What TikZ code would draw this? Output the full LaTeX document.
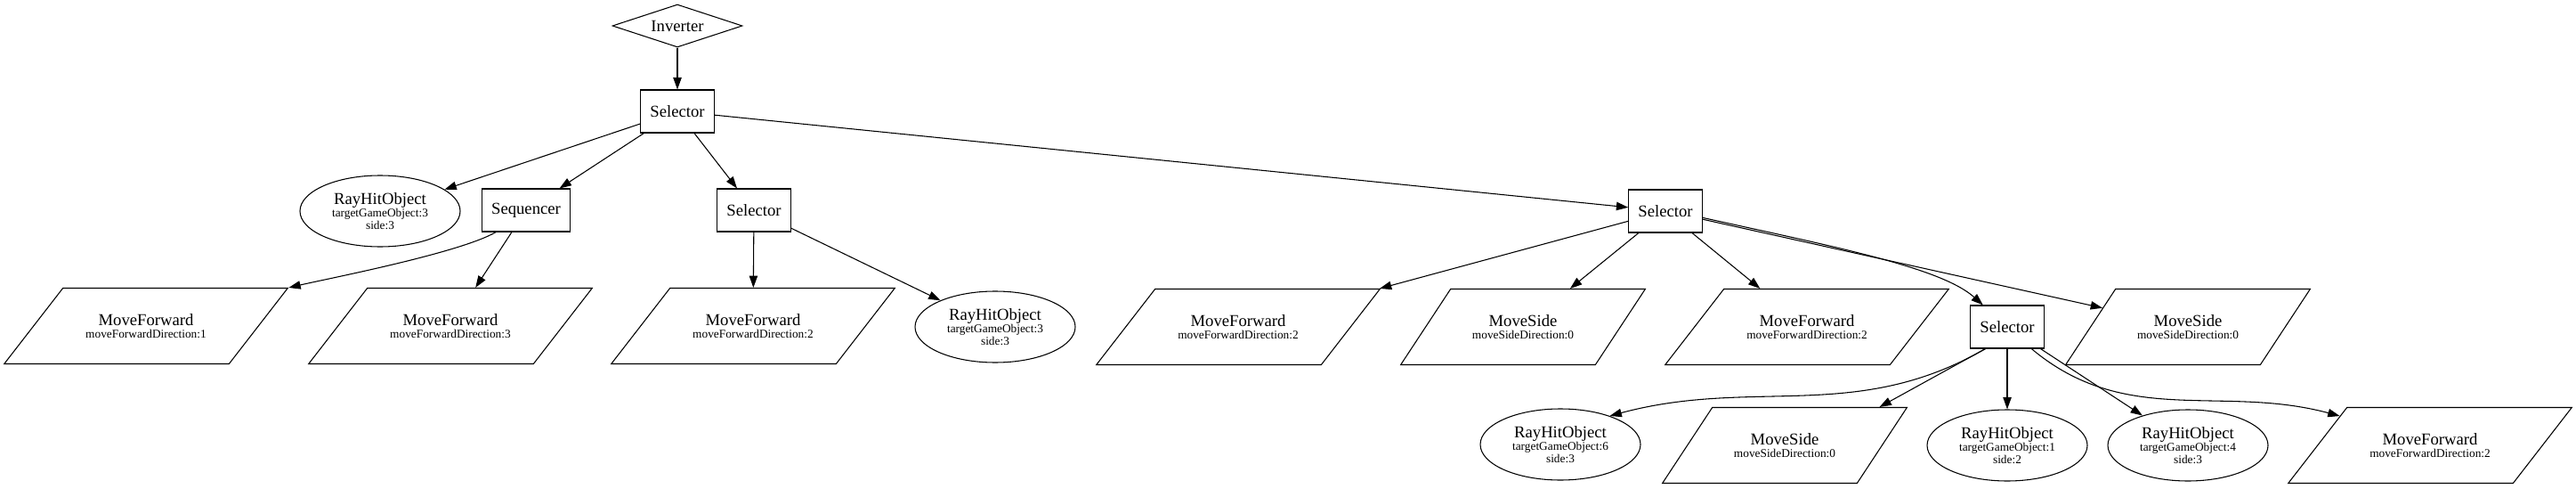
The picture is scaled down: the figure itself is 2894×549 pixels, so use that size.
\documentclass[tikz,border=0pt]{standalone}
\usepackage{fontspec}
\setmainfont{Liberation Serif}
\usetikzlibrary{shapes.geometric,arrows.meta}
\newcommand{\nodetitle}[1]{{\fontsize{14}{14}\selectfont #1}}

\begin{document}
\begin{tikzpicture}[
            x=0.75pt, y=0.75pt,
            line width=0.8pt,
            every node/.append style={black,font=\fontsize{10}{10.5}\selectfont},
            box/.style={draw,rectangle,minimum width=54pt,minimum height=36pt,inner xsep=8pt,font=\fontsize{14}{14}\selectfont},
            gate/.style={draw,diamond,aspect=3,inner sep=1pt,minimum width=109.5pt,minimum height=36pt,font=\fontsize{14}{14}\selectfont},
            hit/.style={draw,ellipse,align=center,inner sep=1pt,minimum width=135pt,minimum height=60pt},
            fwdbox/.style={draw,trapezium,trapezium left angle=52.2,trapezium right angle=127.8,inner sep=0pt,
                execute at begin node={\begin{minipage}[c][63.75pt][c]{140pt}\centering},
                execute at end node={\end{minipage}}},
            sidebox/.style={draw,trapezium,trapezium left angle=56.6,trapezium right angle=123.4,inner sep=0pt,
                execute at begin node={\begin{minipage}[c][63.75pt][c]{122pt}\centering},
                execute at end node={\end{minipage}}},
            link/.style={-{Triangle[length=10pt,width=7pt]}}
        ]
            \useasboundingbox (0,0) rectangle (2894,-549);
            \node [gate] (inv) at (761,-29) {Inverter};
            \node [box] (root) at (761,-125) {Selector};
            \node [hit] (rh1) at (427,-237) {\nodetitle{RayHitObject}\\targetGameObject:3\\side:3};
            \node [box] (seq) at (591,-236) {Sequencer};
            \node [box] (sel2) at (847,-236) {Selector};
            \node [box] (sel3) at (1871,-237) {Selector};
            \node [fwdbox] (mf1) at (164,-366) {\nodetitle{MoveForward}\\moveForwardDirection:1};
            \node [fwdbox] (mf3) at (506,-366) {\nodetitle{MoveForward}\\moveForwardDirection:3};
            \node [fwdbox] (mf2) at (846,-366) {\nodetitle{MoveForward}\\moveForwardDirection:2};
            \node [hit] (rh2) at (1118,-367) {\nodetitle{RayHitObject}\\targetGameObject:3\\side:3};
            \node [fwdbox] (mf4) at (1391,-367) {\nodetitle{MoveForward}\\moveForwardDirection:2};
            \node [sidebox] (ms1) at (1711,-367) {\nodetitle{MoveSide}\\moveSideDirection:0};
            \node [fwdbox] (mf5) at (2030,-367) {\nodetitle{MoveForward}\\moveForwardDirection:2};
            \node [box] (sel4) at (2255,-367) {Selector};
            \node [sidebox] (ms2) at (2458,-367) {\nodetitle{MoveSide}\\moveSideDirection:0};
            \node [hit] (rh6) at (1753,-499) {\nodetitle{RayHitObject}\\targetGameObject:6\\side:3};
            \node [sidebox] (ms3) at (2005,-500) {\nodetitle{MoveSide}\\moveSideDirection:0};
            \node [hit] (rh3) at (2255,-500) {\nodetitle{RayHitObject}\\targetGameObject:1\\side:2};
            \node [hit] (rh4) at (2458,-500) {\nodetitle{RayHitObject}\\targetGameObject:4\\side:3};
            \node [fwdbox] (mf6) at (2730,-500) {\nodetitle{MoveForward}\\moveForwardDirection:2};

            \draw [link] (inv) -- (root);
            \draw [link] (root) -- (rh1);
            \draw [link] (root) -- (seq);
            \draw [link] (root) -- (sel2);
            \draw [link] (root) -- (sel3);
            \draw [link] (seq.216) to [out=210,in=13,looseness=0.5] (mf1.top right corner);
            \draw [link] (seq) -- (mf3);
            \draw [link] (sel2) -- (mf2);
            \draw [link] (sel2) -- (rh2);
            \draw [link] (sel3) -- (mf4);
            \draw [link] (sel3) -- (ms1);
            \draw [link] (sel3) -- (mf5);
            \draw [link] (sel3.-10) .. controls (2060,-277) and (2180,-300) .. (sel4.138);
            \draw [link] (sel3) -- (ms2);
            \draw [link] (sel4.-135) to [out=210,in=15] (rh6.30);
            \draw [link] (sel4.-135) -- (ms3.22);
            \draw [link] (sel4) -- (rh3);
            \draw [link] (sel4) -- (rh4);
            \draw [link] (sel4.-42) to [out=-40,in=165] (mf6.162);
        \end{tikzpicture}
\end{document}
